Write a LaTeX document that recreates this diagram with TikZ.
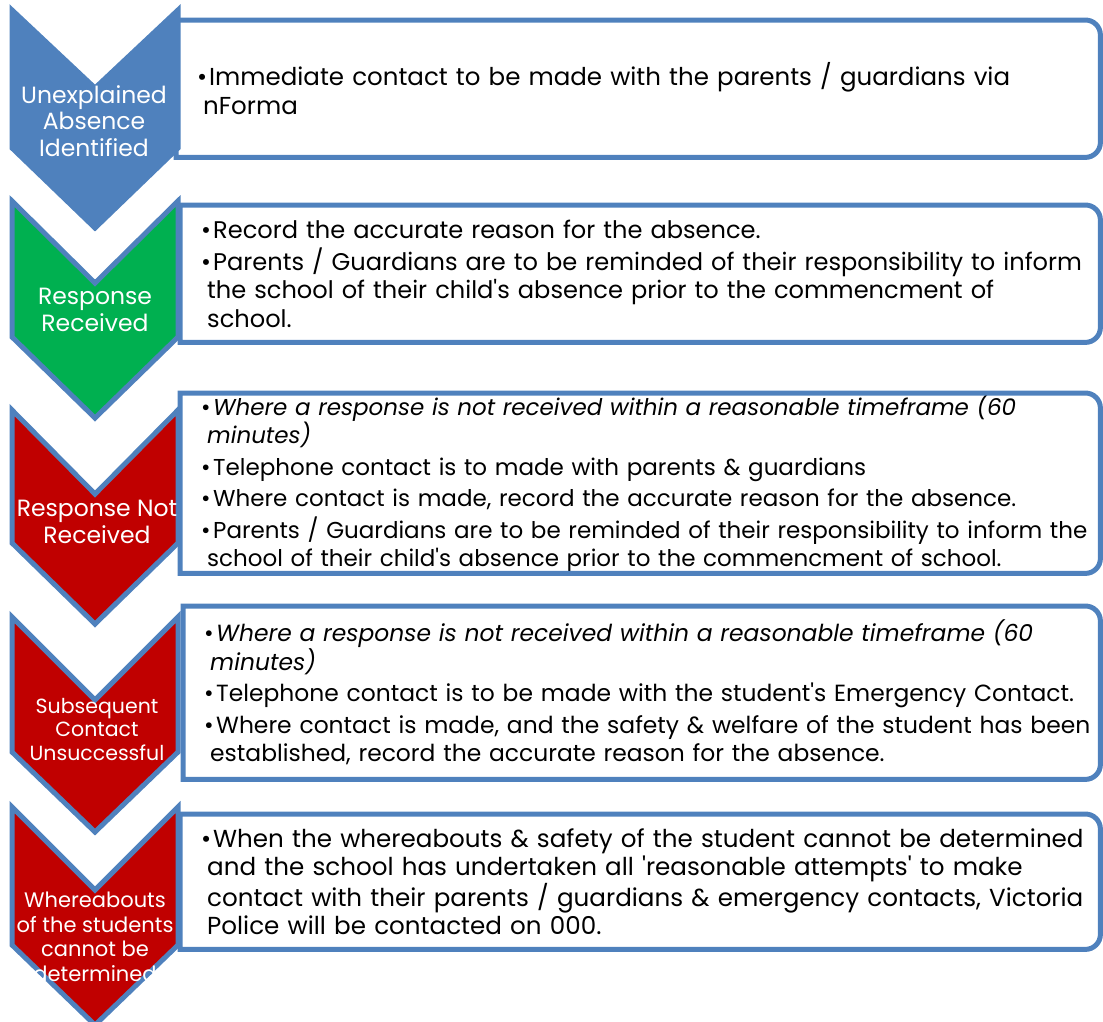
\documentclass[tikz,border=0pt]{standalone}
\usepackage{fontspec}
\setmainfont{Poppins}
\definecolor{stepblue}{RGB}{79,129,189}
\definecolor{stepgreen}{RGB}{0,176,80}
\definecolor{stepred}{RGB}{192,0,0}
\newcommand{\bitem}[1]{\parskip=3pt\leftskip=27pt\noindent\hspace*{-6pt}\makebox[12pt][l]{\textbullet}{#1}\par}
\tikzset{
  chev/.style={draw=stepblue,line width=5pt,line join=miter},
  steplabel/.style={text=white,align=center,inner sep=0pt,font=\fontsize{23.5}{26.5}\selectfont},
  stepbox/.style={anchor=north west,inner xsep=0pt,inner ysep=0pt,align=left,
    font=\fontsize{24.3}{28.5}\selectfont},
  boxline/.style={draw=stepblue,line width=5pt}
}
\begin{document}
\begin{tikzpicture}[x=1pt,y=1pt]
\useasboundingbox (0,0) rectangle (1103,-1021);
% chevrons
\draw[chev,fill=stepblue] (12,-10) -- (95,-88) -- (178,-10) -- (178,-148) -- (95,-228) -- (12,-148) -- cycle;
\draw[chev,fill=stepgreen] (12,-201) -- (95,-283) -- (178,-201) -- (178,-337) -- (95,-418) -- (12,-337) -- cycle;
\draw[chev,fill=stepred] (12,-410) -- (95,-494) -- (178,-410) -- (178,-543) -- (95,-624) -- (12,-543) -- cycle;
\draw[chev,fill=stepred] (12,-617) -- (95,-700) -- (178,-617) -- (178,-752) -- (95,-832) -- (12,-752) -- cycle;
\draw[chev,fill=stepred] (12,-807) -- (95,-890) -- (178,-807) -- (178,-945) -- (95,-1025) -- (12,-945) -- cycle;
\node[steplabel] (c1) at (94,-121) {Unexplained\\Absence\\Identified};
\node[steplabel] (c2) at (95,-310) {Response\\Received};
\node[steplabel] (c3) at (97,-522) {Response Not\\Received};
\node[steplabel,font=\fontsize{20.5}{23.5}\selectfont] (c4) at (97,-729) {Subsequent\\Contact\\Unsuccessful};
\node[steplabel,font=\fontsize{21}{24.5}\selectfont] (c5) at (95,-937) {Whereabouts\\of the students\\cannot be\\determined};
% boxes
\node[stepbox,minimum width=924pt,minimum height=137pt,text width=924pt,font=\fontsize{24.5}{28.5}\selectfont] (b1) at (176,-20)
  {\bitem{Immediate contact to be made with the parents / guardians via\newline nForma}};
\node[stepbox,minimum width=920pt,minimum height=137pt,text width=920pt,font=\fontsize{24.1}{28.5}\selectfont] (b2) at (180,-205)
  {\bitem{Record the accurate reason for the absence.}
   \bitem{Parents / Guardians are to be reminded of their responsibility to inform\newline the school of their child\textquotesingle s absence prior to the commencment of\newline school.}};
\node[stepbox,minimum width=920pt,minimum height=180pt,text width=920pt,font=\fontsize{23}{28.5}\selectfont] (b3) at (180,-393)
  {\bitem{\itshape Where a response is not received within a reasonable timeframe (60\newline minutes)}
   \bitem{Telephone contact is to made with parents \& guardians}
   \bitem{Where contact is made, record the accurate reason for the absence.}
   \bitem{Parents / Guardians are to be reminded of their responsibility to inform the\newline school of their child\textquotesingle s absence prior to the commencment of school.}};
\node[stepbox,minimum width=917pt,minimum height=173pt,text width=917pt,font=\fontsize{23.4}{28.5}\selectfont] (b4) at (183,-606)
  {\bitem{\itshape Where a response is not received within a reasonable timeframe (60\newline minutes)}
   \bitem{Telephone contact is to be made with the student\textquotesingle s Emergency Contact.}
   \bitem{Where contact is made, and the safety \& welfare of the student has been\newline established, record the accurate reason for the absence.}};
\node[stepbox,minimum width=920pt,minimum height=135pt,text width=920pt,font=\fontsize{24.6}{28.5}\selectfont] (b5) at (180,-814)
  {\bitem{When the whereabouts \& safety of the student cannot be determined\newline and the school has undertaken all \textquotesingle reasonable attempts\textquotesingle{} to make\newline contact with their parents / guardians \& emergency contacts, Victoria\newline Police will be contacted on 000.}};
\draw[boxline] (b1.south west) -- (b1.north west) -- ([xshift=-15pt]b1.north east) arc[start angle=90,end angle=0,radius=15pt] -- ([yshift=15pt]b1.south east) arc[start angle=0,end angle=-90,radius=15pt] -- cycle;
\draw[boxline] (b2.south west) -- (b2.north west) -- ([xshift=-15pt]b2.north east) arc[start angle=90,end angle=0,radius=15pt] -- ([yshift=15pt]b2.south east) arc[start angle=0,end angle=-90,radius=15pt] -- cycle;
\draw[boxline] (b3.south west) -- (b3.north west) -- ([xshift=-15pt]b3.north east) arc[start angle=90,end angle=0,radius=15pt] -- ([yshift=15pt]b3.south east) arc[start angle=0,end angle=-90,radius=15pt] -- cycle;
\draw[boxline] (b4.south west) -- (b4.north west) -- ([xshift=-15pt]b4.north east) arc[start angle=90,end angle=0,radius=15pt] -- ([yshift=15pt]b4.south east) arc[start angle=0,end angle=-90,radius=15pt] -- cycle;
\draw[boxline] (b5.south west) -- (b5.north west) -- ([xshift=-15pt]b5.north east) arc[start angle=90,end angle=0,radius=15pt] -- ([yshift=15pt]b5.south east) arc[start angle=0,end angle=-90,radius=15pt] -- cycle;
\end{tikzpicture}
\end{document}
